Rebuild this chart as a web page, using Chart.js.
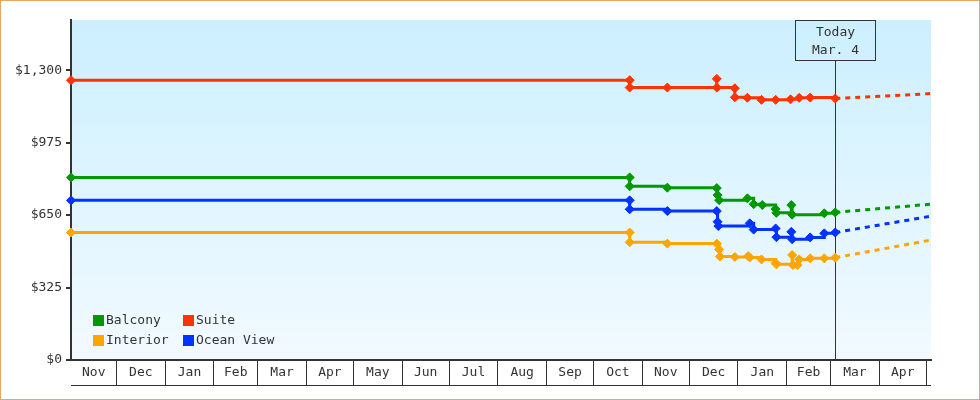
<!DOCTYPE html>
<html>
<head>
<meta charset="utf-8">
<script src="https://cdn.jsdelivr.net/npm/chart.js@4.4.0/dist/chart.umd.min.js"></script>
<style>
  html, body { margin: 0; padding: 0; background: #fff; }
  #wrap { width: 978px; height: 398px; border: 1px solid #e9a862; position: relative; }
</style>
</head>
<body>
<div id="wrap"><canvas id="priceChart"></canvas></div>
<script>
// x values are day numbers, day 0 = Nov 1 of the first year
const monthNames = ['Nov', 'Dec', 'Jan', 'Feb', 'Mar', 'Apr', 'May', 'Jun', 'Jul', 'Aug', 'Sep', 'Oct', 'Nov', 'Dec', 'Jan', 'Feb', 'Mar', 'Apr'];
const monthStarts = [0, 30, 61, 92, 120, 151, 181, 212, 242, 273, 304, 334, 365, 395, 426, 457, 485, 516, 546];
const xMin = 1;
const xMax = 549;
const yTicks = [0, 325, 650, 975, 1300];
const yMax = 1525;
const todayDay = 488;
const todayLabel = ['Today', 'Mar. 4'];

const balconyDays = [1, 357, 357, 381, 412.5, 413, 414, 432, 436, 441.5, 450, 450.5, 460, 460.5, 481, 488];
const balconyPrices = [819, 819, 779, 773, 771, 740, 717, 725, 699, 695, 677, 660, 695, 652, 658, 662];

const suiteDays = [1, 357, 357, 381, 412.5, 412.5, 424, 424, 432, 441, 450, 459.5, 465, 472, 488];
const suitePrices = [1255, 1255, 1222, 1222, 1261, 1222, 1219, 1178, 1176, 1167, 1167, 1169, 1176, 1177, 1173];

const interiorDays = [1, 357, 357, 381, 412.5, 414, 414.5, 424, 432.5, 433.5, 441, 450, 450.5, 460.5, 461, 464, 465, 472, 481, 488];
const interiorPrices = [572, 572, 528, 522, 522, 496, 464, 462, 466, 460, 451, 436, 429, 471, 426, 426, 451, 456, 456, 459];

const oceanDays = [1, 357, 357, 381, 412.5, 413, 413.5, 433.5, 436, 450, 450.5, 460, 460.5, 472, 481, 488];
const oceanPrices = [716, 716, 676, 668, 668, 620, 601, 613, 585, 590, 551, 575, 542, 550, 568, 572];

// forecast after today
const forecastDays = [488, 549];
const balconyForecast = [662, 699];
const suiteForecast = [1173, 1195];
const interiorForecast = [459, 538];
const oceanForecast = [572, 645];

const colors = {
    Balcony: '#009900',
    Suite: '#ff3300',
    Interior: '#ffa500',
    'Ocean View': '#0033ff'
};

function toPoints(days, values) {
    return days.map((d, i) => ({ x: d, y: values[i] }));
}

function historySet(name, days, values) {
    return {
        label: name,
        data: toPoints(days, values),
        borderColor: colors[name],
        backgroundColor: colors[name],
        borderWidth: 3,
        stepped: true,
        pointStyle: 'rectRot',
        pointRadius: 4.5,
        pointBorderWidth: 1,
        clip: false
    };
}

function forecastSet(name, values) {
    return {
        label: name + ' forecast',
        data: toPoints(forecastDays, values),
        borderColor: colors[name],
        borderWidth: 3,
        borderDash: [5, 5],
        pointRadius: 0,
        clip: false
    };
}

// month boxes under the axis: separators at month starts, names at month middles
function monthTicks() {
    const ticks = [];
    monthStarts.forEach(d => {
        if (d > xMin && d <= xMax) ticks.push({ value: d });
    });
    monthNames.forEach((name, i) => {
        const a = Math.max(monthStarts[i], xMin);
        const b = Math.min(monthStarts[i + 1], xMax);
        ticks.push({ value: (a + b) / 2, name: name });
    });
    return ticks.sort((p, q) => p.value - q.value);
}

const backgroundPlugin = {
    id: 'plotBackground',
    beforeDraw(chart) {
        const { ctx, chartArea: a } = chart;
        const g = ctx.createLinearGradient(0, a.top, 0, a.bottom);
        g.addColorStop(0, '#ccefff');
        g.addColorStop(1, '#f2faff');
        ctx.save();
        ctx.fillStyle = g;
        ctx.fillRect(a.left, a.top, a.right - a.left, a.bottom - a.top);
        ctx.restore();
    }
};

const todayPlugin = {
    id: 'todayMarker',
    beforeDatasetsDraw(chart) {
        const { ctx, chartArea: a } = chart;
        const x = Math.round(chart.scales.x.getPixelForValue(todayDay)) + 0.5;
        const boxW = 80, boxH = 40;
        const top = a.top + 0.5;
        ctx.save();
        ctx.strokeStyle = '#333';
        ctx.lineWidth = 1;
        ctx.beginPath();
        ctx.moveTo(x, top + boxH);
        ctx.lineTo(x, a.bottom);
        ctx.stroke();
        ctx.strokeRect(x - boxW / 2, top, boxW, boxH);
        ctx.fillStyle = '#333';
        ctx.font = "13px 'DejaVu Sans Mono', monospace";
        ctx.textAlign = 'center';
        ctx.textBaseline = 'middle';
        ctx.fillText(todayLabel[0], x, top + 12);
        ctx.fillText(todayLabel[1], x, top + 30);
        ctx.restore();
    }
};

const monthRowPlugin = {
    id: 'monthRow',
    afterDraw(chart) {
        const { ctx, chartArea: a } = chart;
        ctx.save();
        ctx.strokeStyle = '#333';
        ctx.lineWidth = 1;
        ctx.beginPath();
        ctx.moveTo(a.left, a.bottom + 25.5);
        ctx.lineTo(a.right, a.bottom + 25.5);
        ctx.stroke();
        ctx.restore();
    }
};

const legendPlugin = {
    id: 'insideLegend',
    afterDraw(chart) {
        const { ctx, chartArea: a } = chart;
        const items = ['Balcony', 'Suite', 'Interior', 'Ocean View'];
        const cols = [22, 112];
        ctx.save();
        ctx.font = "13px 'DejaVu Sans Mono', monospace";
        ctx.textBaseline = 'middle';
        items.forEach((name, i) => {
            const x = a.left + cols[i % 2];
            const y = a.bottom - 45 + Math.floor(i / 2) * 20;
            ctx.fillStyle = colors[name];
            ctx.fillRect(x, y, 11, 11);
            ctx.fillStyle = '#333';
            ctx.fillText(name, x + 13, y + 6);
        });
        ctx.restore();
    }
};

Chart.defaults.font.family = "'DejaVu Sans Mono', monospace";
Chart.defaults.font.size = 13;
Chart.defaults.color = '#333';

new Chart(document.getElementById('priceChart'), {
    type: 'line',
    data: {
        datasets: [
            historySet('Suite', suiteDays, suitePrices),
            historySet('Balcony', balconyDays, balconyPrices),
            historySet('Ocean View', oceanDays, oceanPrices),
            historySet('Interior', interiorDays, interiorPrices),
            forecastSet('Suite', suiteForecast),
            forecastSet('Balcony', balconyForecast),
            forecastSet('Ocean View', oceanForecast),
            forecastSet('Interior', interiorForecast)
        ]
    },
    options: {
        responsive: true,
        maintainAspectRatio: false,
        animation: false,
        layout: { padding: { left: 0, right: 48, top: 19, bottom: 13 } },
        plugins: {
            legend: { display: false },
            tooltip: { enabled: false }
        },
        scales: {
            x: {
                type: 'linear',
                min: xMin,
                max: xMax,
                afterBuildTicks: scale => { scale.ticks = monthTicks(); },
                afterFit: scale => { scale.height = 26; },
                ticks: {
                    autoSkip: false,
                    maxRotation: 0,
                    padding: -20,
                    callback: (value, i, ticks) => ticks[i].name || ''
                },
                grid: {
                    drawOnChartArea: false,
                    tickLength: 25,
                    lineWidth: 1,
                    color: c => (c.tick && c.tick.name) ? 'rgba(0,0,0,0)' : '#333',
                    tickColor: c => (c.tick && c.tick.name) ? 'rgba(0,0,0,0)' : '#333'
                },
                border: { color: '#333', width: 2 }
            },
            y: {
                min: 0,
                max: yMax,
                afterBuildTicks: scale => { scale.ticks = yTicks.map(v => ({ value: v })); },
                afterFit: scale => { scale.width = 70; },
                ticks: {
                    padding: 4,
                    callback: v => '$' + v.toLocaleString('en-US')
                },
                grid: {
                    drawOnChartArea: false,
                    tickLength: 5,
                    lineWidth: 2,
                    color: '#333',
                    tickColor: '#333'
                },
                border: { color: '#333', width: 2 }
            }
        }
    },
    plugins: [backgroundPlugin, todayPlugin, monthRowPlugin, legendPlugin]
});
</script>
</body>
</html>
